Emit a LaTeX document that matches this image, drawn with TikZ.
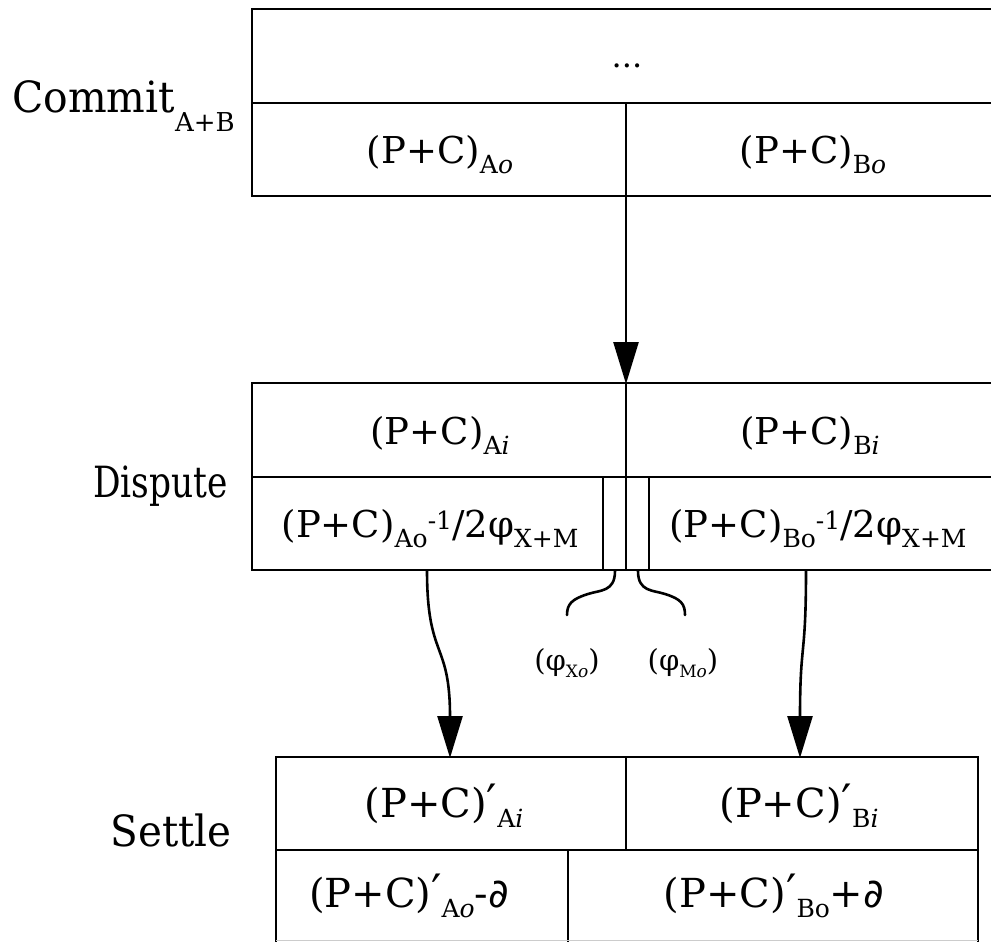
\documentclass[tikz,border=0pt]{standalone}
\usepackage{fontspec}
\setmainfont{DejaVu Serif}
\newfontfamily\symfnt{DejaVu Sans}
\usetikzlibrary{arrows.meta}
\newcommand\sbx[1]{\raisebox{-10pt}{\fontsize{25}{25}\selectfont #1}}
\newcommand\spx[1]{\raisebox{8pt}{\fontsize{25}{25}\selectfont #1}}
\newcommand\prm{{\symfnt\fontsize{46}{46}\selectfont ′}}
\newcommand\dee{{\symfnt ∂}}
\newcommand\half{\spx{-1}/2}
\begin{document}
\begin{tikzpicture}[x=1pt,y=-1pt,
  box/.style={line width=2.6pt},
  cell/.style={inner sep=0pt, anchor=base, font=\fontsize{37}{37}\selectfont},
  scell/.style={inner sep=0pt, anchor=base, font=\fontsize{40}{40}\selectfont},
  stage/.style={inner sep=0pt, font=\fontsize{43}{43}\selectfont},
  small/.style={inner sep=0pt, font=\fontsize{29}{29}\selectfont},
  arr/.style={line width=2.6pt, -{Triangle[length=42pt,width=25pt]}},
  brace/.style={line width=2.6pt, line cap=round}]
\useasboundingbox (0,0) rectangle (991,942);
% Commit box
\draw[box] (1010,9) -- (252,9) -- (252,196) -- (1010,196);
\draw[box] (252,103) -- (1010,103);
\draw[box] (626,103) -- (626,196);
% Dispute box
\draw[box] (1010,383) -- (252,383) -- (252,570) -- (1010,570);
\draw[box] (252,477) -- (1010,477);
\draw[box] (626,383) -- (626,570);
\draw[box] (603,477) -- (603,570);
\draw[box] (649,477) -- (649,570);
% Settle box
\draw[box] (276,960) -- (276,757) -- (978,757) -- (978,960);
\draw[box] (276,850) -- (978,850);
\draw[box] (626,757) -- (626,850);
\draw[box] (568,850) -- (568,960);
\draw[gray!40, line width=1pt] (276,940) -- (978,940);
% stage labels
\node[stage, anchor=base west] (commit) at (12,112) {\scalebox{0.95}[1]{Commit}\raisebox{-20pt}{\fontsize{26}{26}\selectfont A+B}};
\node[stage, anchor=base east] (dispute) at (228,497) {\scalebox{0.8}[1]{Dispute}};
\node[stage, anchor=base east] (settle) at (232,846) {\scalebox{0.94}[1]{Settle}};
% cell texts
\node[inner sep=0pt, font=\fontsize{32}{32}\selectfont] (dots) at (627,66) {...};
\node[cell] (cao) at (440,163) {(P+C)\sbx{A\textit{o}}};
\node[cell] (cbo) at (813,163) {(P+C)\sbx{B\textit{o}}};
\node[cell] (dai) at (440,444) {(P+C)\sbx{A\textit{i}}};
\node[cell] (dbi) at (810,444) {(P+C)\sbx{B\textit{i}}};
\node[cell] (dao) at (430,537) {(P+C)\sbx{Ao}\half φ\sbx{X+M}};
\node[cell] (dbo) at (818,537) {(P+C)\sbx{Bo}\half φ\sbx{X+M}};
\node[scell] (sai) at (444,817) {(P+C)\prm\sbx{A\textit{i}}};
\node[scell] (sbi) at (799,817) {(P+C)\prm\sbx{B\textit{i}}};
\node[scell] (sao) at (409,907) {(P+C)\prm\sbx{A\textit{o}}-\dee};
\node[scell] (sbo) at (774,907) {(P+C)\prm\sbx{Bo}+\dee};
% phi labels
\node[small] (px) at (567,663) {(φ\raisebox{-7pt}{\fontsize{17}{17}\selectfont X\textit{o}})};
\node[small] (pm) at (683,663) {(φ\raisebox{-7pt}{\fontsize{17}{17}\selectfont M\textit{o}})};
% connector end points
\coordinate (c1) at (626,196);
\coordinate (d1) at (626,384);
\coordinate (d2) at (427,570);
\coordinate (s1) at (450,758);
\coordinate (d3) at (806,570);
\coordinate (s2) at (800,758);
\coordinate (bl0) at (615,571);
\coordinate (bl1) at (567,615);
\coordinate (br0) at (638,571);
\coordinate (br1) at (685,615);
% connectors
\draw[arr] (c1) -- (d1);
\draw[arr] (d2) .. controls (427,660) and (450,640) .. (s1);
\draw[arr] (d3) .. controls (806,660) and (800,640) .. (s2);
\draw[brace] (bl0) .. controls (615,592) and (600,590) .. (588,594) .. controls (572,599) and (567,604) .. (bl1);
\draw[brace] (br0) .. controls (638,592) and (653,590) .. (665,594) .. controls (681,599) and (685,604) .. (br1);
\end{tikzpicture}
\end{document}
